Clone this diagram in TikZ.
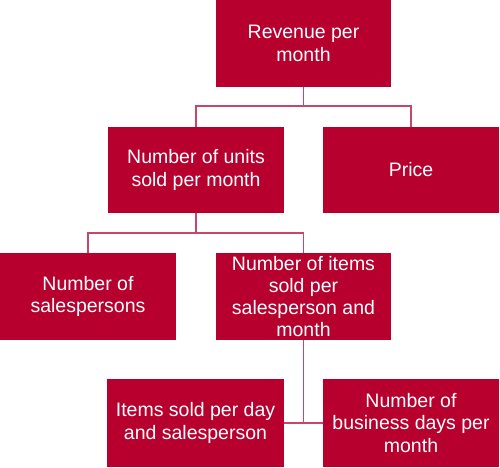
\documentclass[tikz,border=0pt]{standalone}
\usepackage{fontspec}
\setmainfont{Liberation Sans}
\definecolor{boxred}{RGB}{183,0,46}
\definecolor{linered}{RGB}{200,70,105}
\begin{document}
\begin{tikzpicture}[x=1pt,y=-1pt,
  box/.style={fill=boxred,text=white,align=center,inner sep=0pt,
    font=\fontsize{19.5}{22.3}\selectfont},
  conn/.style={draw=linered,line width=1.6pt}]
\useasboundingbox (0,0) rectangle (500,467);
\node[box,minimum width=175pt,minimum height=87pt] (rev) at (303.5,43.5) {Revenue per\\month};
\node[box,minimum width=176pt,minimum height=86pt] (units) at (196,170) {Number of units\\sold per month};
\node[box,minimum width=176pt,minimum height=86pt] (price) at (411,170) {Price};
\node[box,minimum width=176pt,minimum height=87pt] (sales) at (88,296.5) {Number of\\salespersons};
\node[box,minimum width=175pt,minimum height=87pt] (items) at (303.5,296.5) {Number of items\\sold per\\salesperson and\\month};
\node[box,minimum width=177pt,minimum height=88pt] (isold) at (195.5,423) {Items sold per day\\and salesperson};
\node[box,minimum width=176pt,minimum height=88pt] (bdays) at (411,423) {Number of\\business days per\\month};
\coordinate (j1) at (303.5,106);
\coordinate (j2) at (196,233);
\coordinate (j3) at (303.5,423);
\draw[conn] (rev.south) -- (j1);
\draw[conn] (j1) -| (units.north);
\draw[conn] (j1) -| (price.north);
\draw[conn] (units.south) -- (j2);
\draw[conn] (j2) -| (sales.north);
\draw[conn] (j2) -| (items.north);
\draw[conn] (items.south) -- (j3);
\draw[conn] (isold.east) -- (bdays.west);
\end{tikzpicture}
\end{document}
